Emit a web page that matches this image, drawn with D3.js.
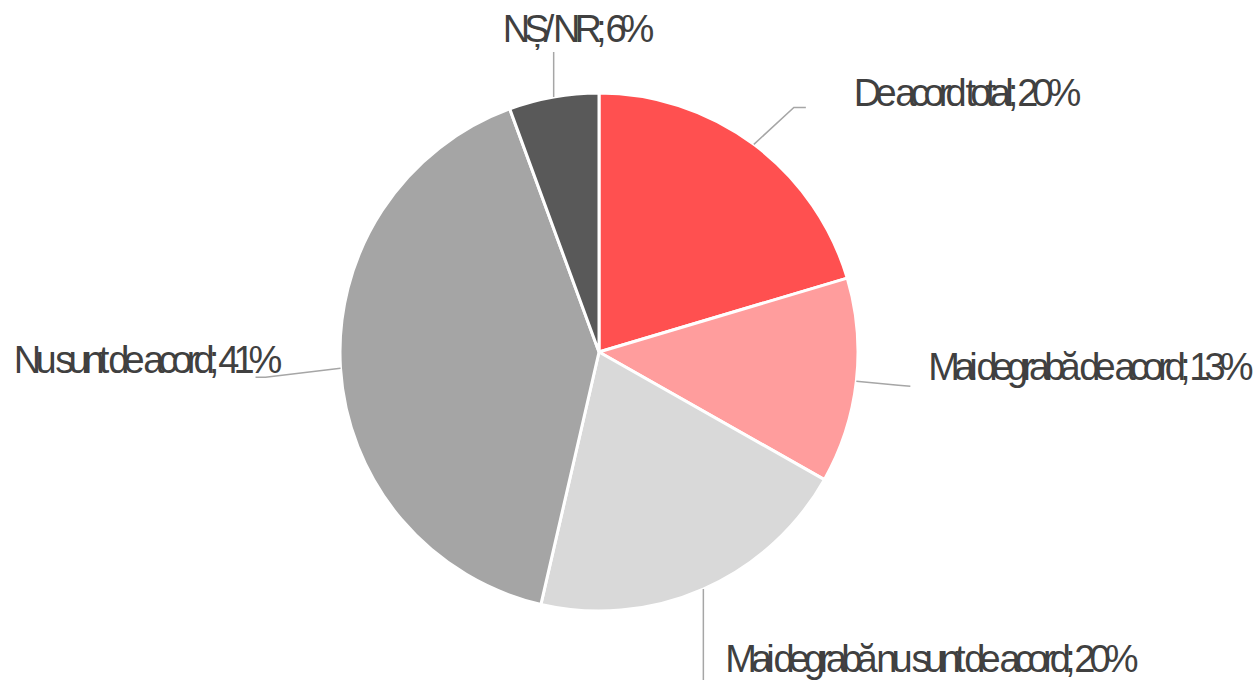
<!DOCTYPE html>
<html>
<head>
<meta charset="utf-8">
<script src="https://cdn.jsdelivr.net/npm/d3@7"></script>
<style>
  body{margin:0;background:#fff;}
  .canvas{width:1255px;height:680px;}
  .label{font-family:"Liberation Sans",Arial,sans-serif;font-size:38px;fill:#404040;letter-spacing:-5.9px;}
</style>
</head>
<body>
<div class="canvas" id="canvas"></div>
<script>
//data
var categories = ['De acord total','Mai degrabă de acord','Mai degrabă nu sunt de acord','Nu sunt de acord','NȘ/ NR'];
var values = [20.4, 12.8, 20.4, 40.8, 5.6];
var colors = ['#FF5050','#FF9D9D','#D9D9D9','#A5A5A5','#595959'];

//leader line bends + label offsets, relative to the point where the leader leaves the pie
var leaders = [
  {bx:40, by:-37, ex:52, ey:-37, tx:100, ty:-38, anchor:'start'},
  {bx:42, by:4, ex:54, ey:5, tx:72, ty:-1, anchor:'start'},
  {bx:0, by:50, ex:0, ey:95, tx:22, ty:83, anchor:'start'},
  {bx:-75, by:9, ex:-85, ey:9, tx:-64, ty:5, anchor:'end'},
  {bx:0, by:-22, ex:0, ey:-45, tx:-51, ty:-55, anchor:'start'}
];

var outerWidth = document.getElementById('canvas').clientWidth,
    outerHeight = document.getElementById('canvas').clientHeight;
var cx = 599, cy = 352, r = 259;

var svg = d3.select('.canvas')
  .append('svg')
  .attr('width',outerWidth)
  .attr('height',outerHeight);

var plot = svg.append('g')
  .attr('transform','translate(' + cx + ',' + cy + ')');

var rows = categories.map(function(c,i){
  return {name:c, value:values[i], color:colors[i], leader:leaders[i]};
});

var pie = d3.pie()
  .sort(null)
  .value(function(d){ return d.value; });

var arc = d3.arc()
  .innerRadius(0)
  .outerRadius(r);

var arcs = pie(rows);

//slices
plot.selectAll('path.slice')
  .data(arcs)
  .enter()
  .append('path')
  .attr('class','slice')
  .attr('d',arc)
  .style('fill',function(d){ return d.data.color; })
  .style('stroke','#fff')
  .style('stroke-width',3)
  .style('stroke-linejoin','round');

//leader start = middle of the outer arc
function edge(d){
  var a = (d.startAngle + d.endAngle)/2;
  return [r*Math.sin(a), -r*Math.cos(a)];
}

plot.selectAll('polyline.leader')
  .data(arcs)
  .enter()
  .append('polyline')
  .attr('class','leader')
  .attr('points',function(d){
    var p = edge(d), l = d.data.leader;
    return [p, [p[0]+l.bx, p[1]+l.by], [p[0]+l.ex, p[1]+l.ey]].join(' ');
  })
  .style('fill','none')
  .style('stroke','#A6A6A6')
  .style('stroke-width',1.5);

plot.selectAll('text.label')
  .data(arcs)
  .enter()
  .append('text')
  .attr('class','label')
  .attr('x',function(d){ return edge(d)[0] + d.data.leader.tx; })
  .attr('y',function(d){ return edge(d)[1] + d.data.leader.ty; })
  .attr('text-anchor',function(d){ return d.data.leader.anchor; })
  .text(function(d){ return d.data.name + '; ' + Math.round(d.data.value) + '%'; });
</script>
</body>
</html>
